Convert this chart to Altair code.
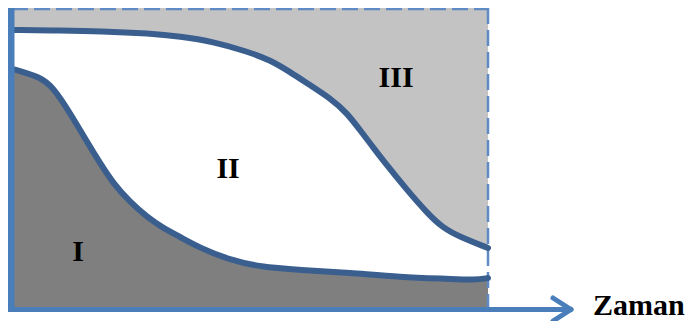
import altair as alt
import pandas as pd

# Upper boundary curve (between region II and III), time 0-100, value 0-100
top_t = [0, 10.1, 18.5, 29.0, 35.3, 42.2, 49.4, 54.2, 58.4, 62.6, 66.8, 70.4, 73.1, 75.8, 77.9,
         83.0, 87.2, 90.5, 94.1, 100]
top_v = [92.7, 92.5, 92.3, 91.5, 90.5, 88.8, 85.5, 82.7, 78.7, 74.3, 70.0, 65.0, 59.3, 53.7, 49.3,
         39.3, 31.7, 26.7, 23.7, 20.0]

# Lower boundary curve (between region I and II)
bot_t = [0, 1.05, 5.9, 8.6, 12.2, 15.8, 18.5, 21.2, 24.8, 28.4, 31.7, 35.3, 39.5, 45.8, 52.1,
         60.5, 71.0, 81.5, 92.0, 97.3, 100]
bot_v = [79.7, 79.3, 77.0, 73.7, 65.0, 55.3, 48.3, 41.7, 35.3, 30.3, 26.7, 23.7, 20.0, 16.0, 13.7,
         12.7, 11.7, 10.3, 9.7, 9.3, 10.0]

# Region labels
lab_text = ["I", "II", "III"]
lab_t = [13.9, 45.4, 80.7]
lab_v = [19.3, 47.0, 77.3]

axis_label = "Zaman"

df_top = pd.DataFrame({"t": top_t, "v": top_v, "v_top": [100] * len(top_t)})
df_bot = pd.DataFrame({"t": bot_t, "v": bot_v})
df_lab = pd.DataFrame({"t": lab_t, "v": lab_v, "txt": lab_text})
one = pd.DataFrame({"a": [0]})

xs = alt.Scale(domain=[0, 100], range=[4, 480], nice=False, zero=False)
ys = alt.Scale(domain=[0, 100], range=[300, 0], nice=False, zero=False)
X = alt.X("t:Q", scale=xs, axis=None)
Y = alt.Y("v:Q", scale=ys, axis=None)

CURVE = "#3a5f8f"
AXIS = "#4a7ebb"
INTERP = "basis"

light = alt.Chart(df_top).mark_area(color="#c3c3c3", interpolate=INTERP).encode(
    x=X, y=Y, y2="v_top:Q")
dark = alt.Chart(df_bot).mark_area(color="#7f7f7f", interpolate=INTERP).encode(
    x=X, y=Y)
line_top = alt.Chart(df_top).mark_line(color=CURVE, strokeWidth=6, interpolate=INTERP,
                                       strokeCap="round").encode(x=X, y=Y)
line_bot = alt.Chart(df_bot).mark_line(color=CURVE, strokeWidth=6, interpolate=INTERP,
                                       strokeCap="round").encode(x=X, y=Y)


def seg(x1, y1, x2, y2, color, width, dash=None, cap="butt"):
    kw = dict(color=color, strokeWidth=width, strokeCap=cap)
    if dash:
        kw["strokeDash"] = dash
    return alt.Chart(one).mark_rule(**kw).encode(
        x=alt.value(x1), y=alt.value(y1), x2=alt.value(x2), y2=alt.value(y2))


border_top = seg(4, 1, 480, 1, "#5f8ac4", 2.5, [16, 6])
border_right = seg(480, 0, 480, 300, "#5f8ac4", 2.5, [16, 6])
axis_left = seg(3, 0, 3, 304, AXIS, 7)
axis_bottom = seg(0, 301.5, 562, 301.5, AXIS, 5)
arrow1 = seg(545, 290, 563, 301.5, AXIS, 5, cap="round")
arrow2 = seg(545, 313, 563, 301.5, AXIS, 5, cap="round")

labels = alt.Chart(df_lab).mark_text(font="Liberation Serif", fontWeight="bold", fontSize=30,
                                     color="black", baseline="middle", dy=2).encode(
    x=X, y=Y, text="txt:N")

zaman = alt.Chart(one).mark_text(text=axis_label, font="Liberation Serif", fontWeight="bold",
                                 fontSize=30, color="black", align="left",
                                 baseline="alphabetic").encode(
    x=alt.value(585), y=alt.value(307))

chart = alt.layer(light, dark, border_top, border_right, line_top, line_bot,
                  axis_left, axis_bottom, arrow1, arrow2, labels, zaman).properties(
    width=677, height=313, padding=0, autosize="none", background="white"
).configure_view(stroke=None)

chart.save("out.html", embed_options={"renderer": "svg", "actions": False})
